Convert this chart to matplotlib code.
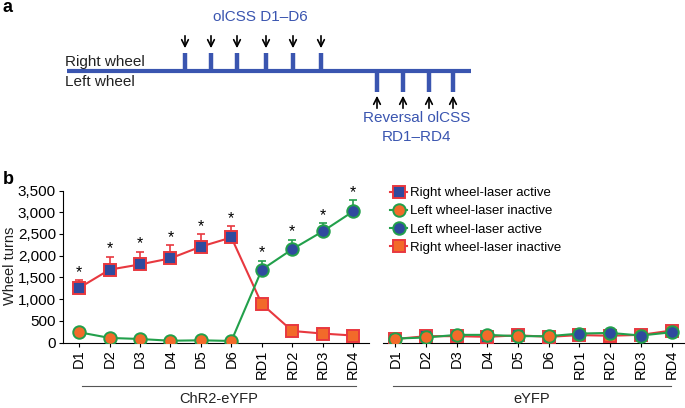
import matplotlib
matplotlib.use("Agg")
import matplotlib.pyplot as plt
from matplotlib.lines import Line2D
import numpy as np

plt.rcParams['font.family'] = ['Liberation Sans', 'DejaVu Sans']

days = ["D1", "D2", "D3", "D4", "D5", "D6", "RD1", "RD2", "RD3", "RD4"]

# ChR2-eYFP group
chr2_right = [1260, 1680, 1800, 1940, 2210, 2420, 890, 270, 210, 165]
chr2_right_err = [180, 290, 290, 300, 280, 260, 0, 0, 0, 0]
chr2_left = [240, 110, 85, 45, 55, 40, 1680, 2150, 2560, 3020]
chr2_left_err = [0, 0, 0, 0, 0, 0, 200, 220, 190, 255]
chr2_sig = [True] * 10

# eYFP group
eyfp_right = [85, 150, 150, 135, 170, 135, 175, 160, 180, 280]
eyfp_left = [95, 120, 180, 180, 150, 150, 210, 225, 165, 240]

BLUE = "#2f4a9e"
ORANGE = "#f26a2a"
RED = "#e8383f"
GREEN = "#22a04b"
PBLUE = "#3a55b0"

W, H = 685, 408
fig = plt.figure(figsize=(W / 100, H / 100), dpi=100)

def fr(x0, y0, x1, y1):
    return [x0 / W, 1 - y1 / H, (x1 - x0) / W, (y1 - y0) / H]

# overlay axes in pixel coordinates
ov = fig.add_axes([0, 0, 1, 1], zorder=-1)
ov.set_xlim(0, W)
ov.set_ylim(H, 0)
ov.axis("off")

# ---- panel a ----
ov.text(3, 8, "a", fontsize=13, fontweight="bold", va="center", ha="left")
ov.plot([67, 471], [71, 71], color=PBLUE, lw=3.0, solid_capstyle="butt")
for x in [185, 211, 237, 266, 293, 321]:
    ov.plot([x, x], [53, 71], color=PBLUE, lw=3.2, solid_capstyle="butt")
    ov.annotate("", xy=(x, 51), xytext=(x, 33),
                arrowprops=dict(arrowstyle="->", color="black", lw=1.2, mutation_scale=12))
for x in [377, 403, 429, 453]:
    ov.plot([x, x], [71, 92], color=PBLUE, lw=3.2, solid_capstyle="butt")
    ov.annotate("", xy=(x, 93), xytext=(x, 111),
                arrowprops=dict(arrowstyle="->", color="black", lw=1.2, mutation_scale=12))
ov.text(65, 62, "Right wheel", fontsize=11, va="center", ha="left", color="#222222")
ov.text(65, 82, "Left wheel", fontsize=11, va="center", ha="left", color="#222222")
ov.text(260, 17, "olCSS D1\u2013D6", fontsize=11, va="center", ha="center", color=PBLUE)
ov.text(417, 118, "Reversal olCSS", fontsize=11, va="center", ha="center", color=PBLUE)
ov.text(417, 137, "RD1\u2013RD4", fontsize=11, va="center", ha="center", color=PBLUE)

# ---- panel b ----
ov.text(3, 180, "b", fontsize=13, fontweight="bold", va="center", ha="left")
ov.text(10, 266, "Wheel turns", fontsize=10.5, rotation=90, va="center", ha="center",
        color="#222222")

x = np.arange(len(days))
ms = 9
mew = 1.4

def draw_group(ax, right, left, right_err=None, left_err=None, sig=None):
    n_on = 6
    ax.plot(x, right, color=RED, lw=1.5, zorder=2)
    if right_err is not None:
        for xi, v, e in zip(x, right, right_err):
            if e > 0:
                ax.errorbar([xi], [v], yerr=[[0], [e]], color=RED, lw=1.2,
                            capsize=3, capthick=1.2, zorder=1, fmt="none")
    ax.plot(x[:n_on], right[:n_on], ls="none", marker="s", ms=ms, mfc=BLUE,
            mec=RED, mew=mew, zorder=3)
    ax.plot(x[n_on:], right[n_on:], ls="none", marker="s", ms=ms, mfc=ORANGE,
            mec=RED, mew=mew, zorder=3)
    ax.plot(x, left, color=GREEN, lw=1.5, zorder=4)
    if left_err is not None:
        for xi, v, e in zip(x, left, left_err):
            if e > 0:
                ax.errorbar([xi], [v], yerr=[[0], [e]], color=GREEN, lw=1.2,
                            capsize=3, capthick=1.2, zorder=1, fmt="none")
    ax.plot(x[:n_on], left[:n_on], ls="none", marker="o", ms=ms, mfc=ORANGE,
            mec=GREEN, mew=mew, zorder=5)
    ax.plot(x[n_on:], left[n_on:], ls="none", marker="o", ms=ms, mfc=BLUE,
            mec=GREEN, mew=mew, zorder=5)
    if sig is not None:
        for i, s in enumerate(sig):
            if s:
                top = right[i] + right_err[i] if i < n_on else left[i] + left_err[i]
                ax.text(x[i], top + 10, "*", ha="center", va="bottom", fontsize=11.5)

def style(ax, show_y):
    ax.set_ylim(0, 3500)
    ax.set_xticks(x)
    ax.set_xticklabels(days, rotation=90, fontsize=10.5)
    ax.spines["top"].set_visible(False)
    ax.spines["right"].set_visible(False)
    ax.tick_params(axis="x", length=3, width=0.8, pad=2)
    ax.patch.set_alpha(0)
    if show_y:
        ax.set_yticks(np.arange(0, 3501, 500))
        ax.set_yticklabels([f"{v:,}" for v in range(0, 3501, 500)], fontsize=11)
        ax.tick_params(axis="y", length=3, width=0.8, pad=2)
    else:
        ax.spines["left"].set_visible(False)
        ax.set_yticks([])

ax1 = fig.add_axes(fr(63, 190.5, 369, 342.7))
draw_group(ax1, chr2_right, chr2_left, chr2_right_err, chr2_left_err, chr2_sig)
ax1.set_xlim(-0.53, 9.52)
style(ax1, True)

ax2 = fig.add_axes(fr(383, 190.5, 690, 342.7))
draw_group(ax2, eyfp_right, eyfp_left)
ax2.set_xlim(-0.4, 9.6)
style(ax2, False)

# group brackets
ov.plot([82, 356], [386, 386], color="#555555", lw=0.8)
ov.plot([393, 671], [386, 386], color="#555555", lw=0.8)
ov.text(219, 399, "ChR2-eYFP", fontsize=10.5, ha="center", va="center", color="#222222")
ov.text(532, 399, "eYFP", fontsize=10.5, ha="center", va="center", color="#222222")

# legend
handles = [
    Line2D([], [], color=RED, lw=1.5, marker="s", ms=ms, mfc=BLUE, mec=RED, mew=mew),
    Line2D([], [], color=GREEN, lw=1.5, marker="o", ms=ms, mfc=ORANGE, mec=GREEN, mew=mew),
    Line2D([], [], color=GREEN, lw=1.5, marker="o", ms=ms, mfc=BLUE, mec=GREEN, mew=mew),
    Line2D([], [], color=RED, lw=1.5, marker="s", ms=ms, mfc=ORANGE, mec=RED, mew=mew),
]
labels = ["Right wheel-laser active", "Left wheel-laser inactive",
          "Left wheel-laser active", "Right wheel-laser inactive"]
fig.legend(handles, labels, loc="upper left", bbox_to_anchor=(390 / W, 1 - 187 / H),
           frameon=False, fontsize=9.5, handlelength=1.3, handletextpad=0.2,
           labelspacing=0.45, borderaxespad=0, borderpad=0)

fig.savefig("out.png", dpi=100)
